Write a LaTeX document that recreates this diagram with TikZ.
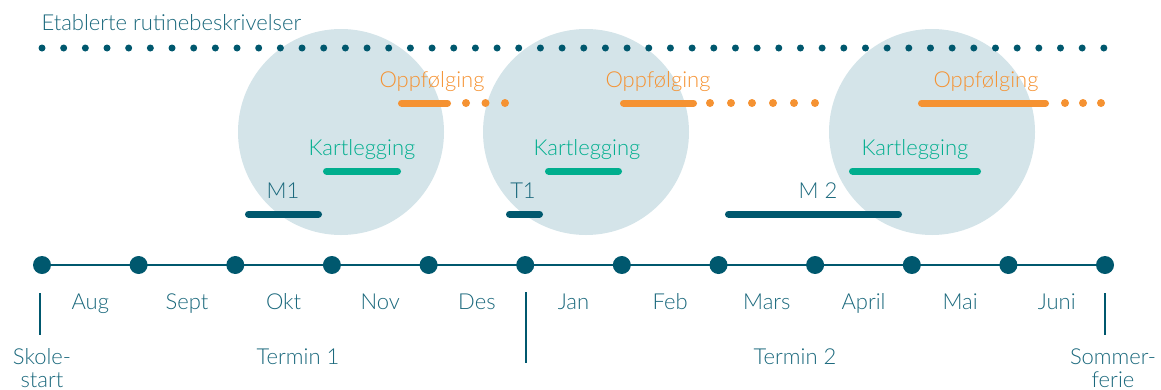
\documentclass[tikz,border=0pt]{standalone}
\usepackage{fontspec}
\setmainfont{Lato}[UprightFont=* Light]
\usetikzlibrary{positioning}
\definecolor{navy}{RGB}{0,88,110}
\definecolor{tealtext}{RGB}{26,104,124}
\definecolor{oransje}{RGB}{245,146,50}
\definecolor{gronn}{RGB}{0,174,142}
\definecolor{sirkel}{RGB}{212,228,233}

\begin{document}
\begin{tikzpicture}[x=1pt,y=-1pt,
    lbl/.style={anchor=base,font=\fontsize{22}{23}\selectfont},
    month/.style={lbl,text=tealtext},
    tldot/.style={circle,fill=navy,inner sep=0pt,minimum size=18pt},
    bar/.style={line width=7pt,line cap=round},
    dotline/.style={line width=8pt,line cap=round,dash pattern=on 0pt off #1pt},
    tick/.style={navy,line width=2.5pt}]
    \useasboundingbox (0,0) rectangle (1161,389);

    % fokusperioder
    \fill[sirkel] (341,132) circle (103);
    \fill[sirkel] (586,132) circle (103);
    \fill[sirkel] (932,132) circle (103);

    % rutinebeskrivelser
    \node[lbl,text=tealtext,anchor=base west] (rutine) at (38,30) {Etablerte rutinebeskrivelser};
    \draw[navy,line width=7pt,line cap=round,dash pattern=on 0pt off 21.67pt] (42,48) -- (1104,48);

    % oppfolging
    \node[lbl,text=oransje] (opp1) at (432,87) {Oppfølging};
    \node[lbl,text=oransje] (opp2) at (658,87) {Oppfølging};
    \node[lbl,text=oransje] (opp3) at (986,87) {Oppfølging};
    \draw[oransje,bar] (401.5,103) -- (447.5,103);
    \draw[oransje,dotline=19.5] (466,103) -- (505,103);
    \draw[oransje,bar] (623.5,103) -- (693.5,103);
    \draw[oransje,dotline=21] (710,103) -- (815,103);
    \draw[oransje,bar] (921.5,103) -- (1045.5,103);
    \draw[oransje,dotline=18] (1065,103) -- (1101,103);

    % kartlegging
    \node[lbl,text=gronn] (kart1) at (362,155) {Kartlegging};
    \node[lbl,text=gronn] (kart2) at (587,155) {Kartlegging};
    \node[lbl,text=gronn] (kart3) at (915,155) {Kartlegging};
    \draw[gronn,bar] (326.5,171) -- (397.5,171);
    \draw[gronn,bar] (548.5,171) -- (618.5,171);
    \draw[gronn,bar] (852.5,171) -- (977.5,171);

    % malinger
    \node[month] (m1) at (283,198) {M1};
    \node[month] (t1) at (523,198) {T1};
    \node[month] (m2) at (818,198) {M 2};
    \draw[navy,bar] (248.5,214) -- (318.5,214);
    \draw[navy,bar] (509.5,214) -- (539.5,214);
    \draw[navy,bar] (728.5,214) -- (898.5,214);

    % tidslinje
    \node[tldot] (d0) at (42,265) {};
    \node[tldot] (d1) at (138.6,265) {};
    \node[tldot] (d2) at (235.3,265) {};
    \node[tldot] (d3) at (331.9,265) {};
    \node[tldot] (d4) at (428.6,265) {};
    \node[tldot] (d5) at (525.2,265) {};
    \node[tldot] (d6) at (621.8,265) {};
    \node[tldot] (d7) at (718.5,265) {};
    \node[tldot] (d8) at (815.1,265) {};
    \node[tldot] (d9) at (911.8,265) {};
    \node[tldot] (d10) at (1008.4,265) {};
    \node[tldot] (d11) at (1105,265) {};
    \draw[navy,line width=2.5pt] (d0) -- (d11);

    \node[month] (aug) at (90.3,309) {Aug};
    \node[month] (sep) at (187,309) {Sept};
    \node[month] (okt) at (283.6,309) {Okt};
    \node[month] (nov) at (380.2,309) {Nov};
    \node[month] (des) at (476.9,309) {Des};
    \node[month] (jan) at (573.5,309) {Jan};
    \node[month] (feb) at (670.2,309) {Feb};
    \node[month] (mar) at (766.8,309) {Mars};
    \node[month] (apr) at (863.5,309) {April};
    \node[month] (mai) at (960.1,309) {Mai};
    \node[month] (jun) at (1056.7,309) {Juni};

    % terminer
    \coordinate (s0) at (40,293);
    \coordinate (s1) at (40,335);
    \coordinate (h0) at (526,292);
    \coordinate (h1) at (526,363);
    \coordinate (f0) at (1105,293);
    \coordinate (f1) at (1105,335);
    \draw[tick] (s0) -- (s1);
    \draw[tick] (h0) -- (h1);
    \draw[tick] (f0) -- (f1);

    \node[month,align=center] (skole) at (42,387) {Skole-\\start};
    \node[month] (term1) at (298,364) {Termin 1};
    \node[month] (term2) at (795,364) {Termin 2};
    \node[month,align=center] (sommer) at (1113,387) {Sommer-\\ferie};
\end{tikzpicture}
\end{document}
